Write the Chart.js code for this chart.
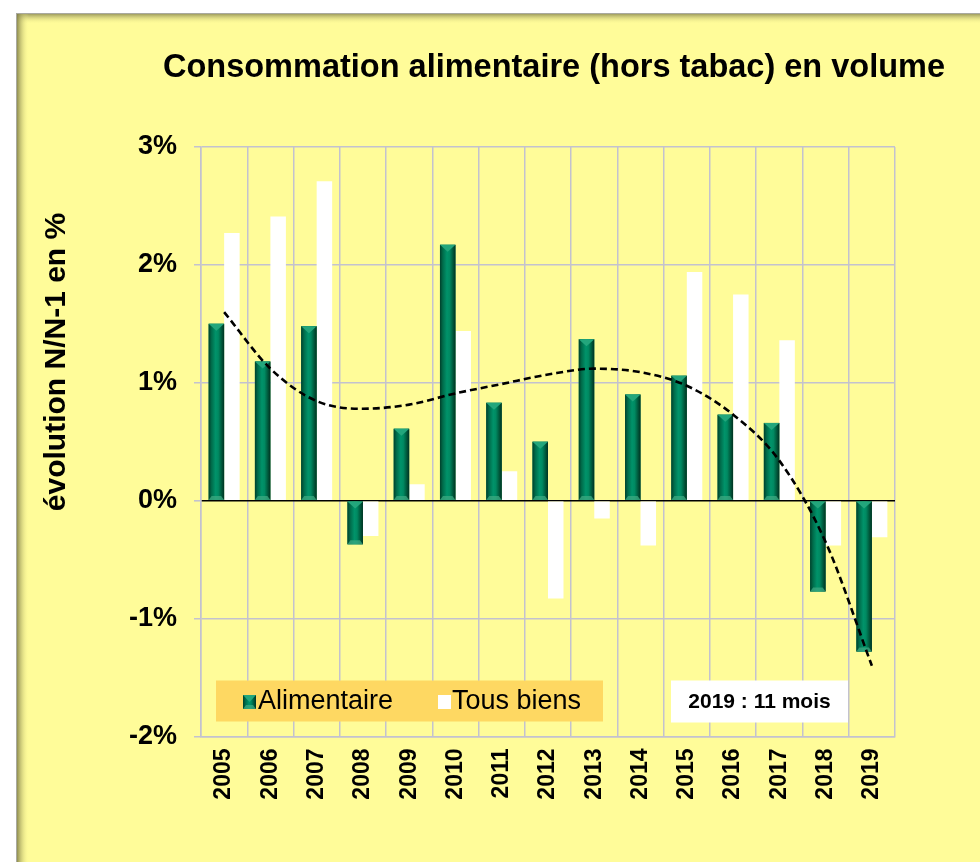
<!DOCTYPE html>
<html lang="fr">
<head>
<meta charset="utf-8">
<title>Consommation alimentaire (hors tabac) en volume</title>
<script src="https://cdn.jsdelivr.net/npm/chart.js@4.4.1/dist/chart.umd.min.js"></script>
<style>
  html, body { margin: 0; padding: 0; background: #ffffff; }
  #wrap { width: 980px; height: 862px; position: relative; }
</style>
</head>
<body>
<div id="wrap"><canvas id="graph" width="980" height="862"></canvas></div>
<script>
// Années
const annees = ['2005', '2006', '2007', '2008', '2009', '2010', '2011', '2012',
                '2013', '2014', '2015', '2016', '2017', '2018', '2019'];

// Évolution N/N-1 en % : consommation alimentaire (hors tabac)
const alimentaire = [1.50, 1.18, 1.48, -0.37, 0.61, 2.17, 0.83, 0.50,
                     1.37, 0.90, 1.06, 0.73, 0.66, -0.77, -1.28];

// Évolution N/N-1 en % : ensemble des biens
const tousBiens = [2.27, 2.41, 2.71, -0.30, 0.14, 1.44, 0.25, -0.83,
                   -0.15, -0.38, 1.94, 1.75, 1.36, -0.38, -0.31];

// Courbe de tendance (polynomiale) de la série alimentaire
const tendance = [1.60, 1.12, 0.845, 0.78, 0.815, 0.91, 0.99, 1.07,
                  1.12, 1.09, 0.975, 0.73, 0.34, -0.35, -1.40];

// Graduations de l'axe vertical
const yTicks = [-2, -1, 0, 1, 2, 3];

const titre = 'Consommation alimentaire (hors tabac) en volume';
const titreAxe = 'évolution N/N-1 en %';
const note = '2019 : 11 mois';

const JAUNE = '#fffc99';
const GRILLE = '#c3c2cf';
const POLICE = "'Liberation Sans', Arial, Helvetica, sans-serif";

Chart.defaults.font.family = POLICE;
Chart.defaults.color = '#000';

// Fond jaune du cadre avec son ombre intérieure
const fondCadre = {
  id: 'fondCadre',
  beforeDraw(chart) {
    const c = chart.ctx;
    const W = chart.width, H = chart.height;
    c.save();
    c.fillStyle = '#ffffff';
    c.fillRect(0, 0, W, H);
    const x0 = 16, y0 = 13;
    c.fillStyle = JAUNE;
    c.fillRect(x0, y0, W - x0, H - y0);
    let g = c.createLinearGradient(0, y0, 0, y0 + 11);
    g.addColorStop(0, 'rgba(120,118,70,0.85)');
    g.addColorStop(1, 'rgba(255,252,153,0)');
    c.fillStyle = g;
    c.fillRect(x0, y0, W - x0, 11);
    g = c.createLinearGradient(x0, 0, x0 + 13, 0);
    g.addColorStop(0, 'rgba(110,108,60,0.9)');
    g.addColorStop(1, 'rgba(255,252,153,0)');
    c.fillStyle = g;
    c.fillRect(x0, y0, 13, H - y0);
    c.fillStyle = '#a9a9a0';
    c.fillRect(x0, y0, W - x0, 1);
    c.fillRect(x0, y0, 1, H - y0);
    c.restore();
  }
};

// Titre du graphique et titre de l'axe vertical
const titres = {
  id: 'titres',
  afterDraw(chart) {
    const c = chart.ctx;
    c.save();
    c.fillStyle = '#000';
    c.textAlign = 'center';
    c.textBaseline = 'middle';
    c.font = 'bold 34px ' + POLICE;
    c.fillText(titre, 554, 68, 782);
    c.translate(57, 362);
    c.rotate(-Math.PI / 2);
    c.font = 'bold 30px ' + POLICE;
    c.fillText(titreAxe, 0, 0);
    c.restore();
  }
};

// Relief des colonnes vertes (dégradé horizontal et biseaux)
function dessineRelief(c, left, top, w, h) {
  const g = c.createLinearGradient(left, 0, left + w, 0);
  g.addColorStop(0, '#00402b');
  g.addColorStop(0.18, '#006b4a');
  g.addColorStop(0.45, '#00936a');
  g.addColorStop(0.62, '#008a62');
  g.addColorStop(0.85, '#005539');
  g.addColorStop(1, '#003221');
  c.fillStyle = g;
  c.fillRect(left, top, w, h);
  const cap = Math.min(7, h / 2);
  c.fillStyle = '#23a67c';
  c.beginPath();
  c.moveTo(left, top);
  c.lineTo(left + w, top);
  c.lineTo(left + w / 2, top + cap);
  c.closePath();
  c.fill();
  const bas = Math.min(4, h / 3);
  c.fillStyle = 'rgba(60,170,130,0.75)';
  c.beginPath();
  c.moveTo(left, top + h);
  c.lineTo(left + w, top + h);
  c.lineTo(left + w - 3, top + h - bas);
  c.lineTo(left + 3, top + h - bas);
  c.closePath();
  c.fill();
}

const reliefColonnes = {
  id: 'reliefColonnes',
  afterDatasetDraw(chart, args) {
    if (args.index !== 0) return;
    const c = chart.ctx;
    const area = chart.chartArea;
    c.save();
    c.beginPath();
    c.rect(area.left, area.top, area.right - area.left, area.bottom - area.top);
    c.clip();
    args.meta.data.forEach(bar => {
      const p = bar.getProps(['x', 'y', 'base', 'width'], true);
      const left = p.x - p.width / 2;
      const top = Math.min(p.y, p.base);
      const h = Math.abs(p.base - p.y);
      dessineRelief(c, left, top, p.width, h);
    });
    c.restore();
  }
};

// Légende et mention placées dans la zone de tracé
const legendeEtNote = {
  id: 'legendeEtNote',
  afterDraw(chart) {
    const c = chart.ctx;
    const a = chart.chartArea;
    const top = a.bottom - 56;
    const hauteur = 41;
    const cy = top + hauteur / 2 + 1;
    c.save();
    // cadre de légende
    c.fillStyle = '#fed862';
    c.fillRect(a.left + 15, top, 387, hauteur);
    c.font = '27px ' + POLICE;
    c.textBaseline = 'middle';
    c.textAlign = 'left';
    const ds = chart.data.datasets;
    // Alimentaire
    dessineRelief(c, a.left + 42, cy - 7, 13, 14);
    c.fillStyle = '#000';
    c.fillText(ds[0].label, a.left + 57, cy);
    // Tous biens
    c.fillStyle = '#ffffff';
    c.fillRect(a.left + 237, cy - 7, 13, 14);
    c.fillStyle = '#000';
    c.fillText(ds[1].label, a.left + 251, cy);
    // mention 2019
    c.fillStyle = '#ffffff';
    c.fillRect(a.left + 470, top, 177, hauteur + 1);
    c.fillStyle = '#000';
    c.font = 'bold 21px ' + POLICE;
    c.textAlign = 'center';
    c.fillText(note, a.left + 470 + 177 / 2, cy);
    c.restore();
  }
};

new Chart(document.getElementById('graph'), {
  data: {
    labels: annees,
    datasets: [
      {
        type: 'bar',
        label: 'Alimentaire',
        data: alimentaire,
        backgroundColor: '#00845c',
        borderWidth: 0,
        categoryPercentage: 0.67,
        barPercentage: 1,
        order: 2
      },
      {
        type: 'bar',
        label: 'Tous biens',
        data: tousBiens,
        backgroundColor: '#ffffff',
        borderWidth: 0,
        categoryPercentage: 0.67,
        barPercentage: 1,
        order: 2
      },
      {
        type: 'line',
        label: 'Tendance',
        data: tendance,
        borderColor: '#000000',
        borderWidth: 2.6,
        borderDash: [7, 4],
        pointRadius: 0,
        fill: false,
        cubicInterpolationMode: 'monotone',
        order: 1
      }
    ]
  },
  options: {
    responsive: false,
    animation: false,
    layout: { padding: { left: 20, right: 85, top: 147, bottom: 0 } },
    plugins: {
      legend: { display: false },
      tooltip: { enabled: false },
      title: { display: false }
    },
    scales: {
      x: {
        grid: { offset: true, color: GRILLE, lineWidth: 1.5, drawTicks: false },
        border: { color: GRILLE, width: 1.5 },
        ticks: {
          minRotation: 90,
          maxRotation: 90,
          color: '#000',
          padding: 12,
          font: { size: 23, weight: 'bold' }
        },
        afterFit(s) { s.height = 125.5; }
      },
      y: {
        min: -2,
        max: 3,
        afterBuildTicks(s) { s.ticks = yTicks.map(v => ({ value: v })); },
        ticks: {
          callback: v => v + '%',
          color: '#000',
          padding: 17,
          font: { size: 27, weight: 'bold' }
        },
        grid: {
          color: ctx => (ctx.tick && ctx.tick.value === 0) ? '#000000' : GRILLE,
          lineWidth: ctx => (ctx.tick && ctx.tick.value === 0) ? 1.6 : 1.5,
          tickLength: 7,
          tickColor: GRILLE
        },
        border: { color: GRILLE, width: 1.5 },
        title: { display: false },
        afterFit(s) { s.width = 181; }
      }
    }
  },
  plugins: [fondCadre, reliefColonnes, legendeEtNote, titres]
});
</script>
</body>
</html>
